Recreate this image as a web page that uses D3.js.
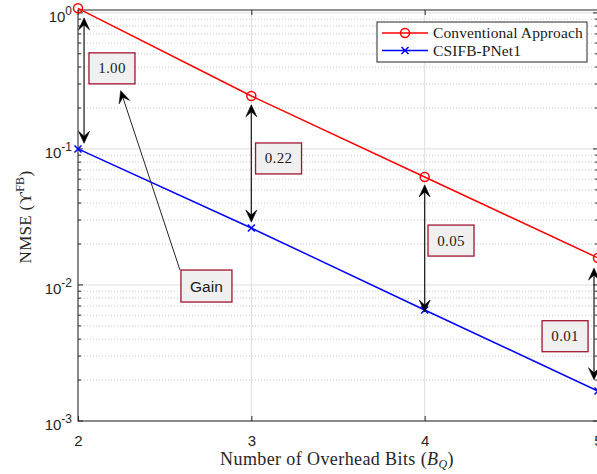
<!DOCTYPE html>
<html>
<head>
<meta charset="utf-8">
<script src="https://cdn.jsdelivr.net/npm/d3@7"></script>
<style>
  html, body { margin: 0; padding: 0; background: #fff; }
  svg { display: block; }
</style>
</head>
<body>
<svg id="chart" width="597" height="474"></svg>
<script>
// Overhead bits on the x axis
const bits = [2, 3, 4, 5];
// NMSE per scheme
const conventional = [1.08, 0.245, 0.0622, 0.0158];
const csifbPNet1 = [0.1, 0.0262, 0.00655, 0.00166];
const seriesNames = ["Conventional Approach", "CSIFB-PNet1"];
// Axis ticks
const xTicks = [2, 3, 4, 5];
const yDecades = [0, -1, -2, -3];

// Gain annotations: double arrow (x, top, bottom) and the label box centre
const gainLabels = ["1.00", "0.22", "0.05", "0.01"];
const arrowX = [2.035, 3.0, 4.0, 4.977];
const arrowTop = [0.919, 0.211, 0.0544, 0.0133];
const arrowBottom = [0.110, 0.029, 0.00633, 0.00201];
const boxX = [2.196, 3.157, 4.152, 4.810];
const boxY = [0.391, 0.0851, 0.0212, 0.0042];
// "Gain" callout box and its pointer
const gainBox = { text: "Gain", x: 2.741, y: 0.00982 };
const gainPointer = { x1: 2.588, y1: 0.0129, x2: 2.246, y2: 0.268 };

(function () {
const svg = d3.select("#chart");
const mLeft = 78, mRight = 598, mTop = 10, mBottom = 421;

const x = d3.scaleLinear().domain([2, 5]).range([mLeft, mRight]);
const y = d3.scaleLog().domain([1e-3, 1.05]).range([mBottom, mTop]);

const axisColor = "#262626";
const serif = "'Liberation Serif', 'DejaVu Serif', serif";
const sans = "'Liberation Sans', Arial, Helvetica, sans-serif";

// Grid
const grid = svg.append("g");
// minor log grid (dotted)
const minorVals = [];
for (let e = -3; e <= 0; e++) {
  for (let m = 2; m <= 9; m++) {
    const v = m * Math.pow(10, e);
    if (v <= 1.05) minorVals.push(v);
  }
}
grid.selectAll("line.minor").data(minorVals).join("line")
  .attr("x1", mLeft).attr("x2", mRight)
  .attr("y1", d => y(d)).attr("y2", d => y(d))
  .attr("stroke", "#c8c8c8").attr("stroke-width", 1)
  .attr("stroke-dasharray", "1,2");
// major grid
grid.selectAll("line.majy").data(yDecades.map(e => Math.pow(10, e))).join("line")
  .attr("x1", mLeft).attr("x2", mRight)
  .attr("y1", d => y(d)).attr("y2", d => y(d))
  .attr("stroke", "#dedede").attr("stroke-width", 1);
grid.selectAll("line.majx").data(xTicks).join("line")
  .attr("x1", d => x(d)).attr("x2", d => x(d))
  .attr("y1", mTop).attr("y2", mBottom)
  .attr("stroke", "#dedede").attr("stroke-width", 1);

// Axes frame
svg.append("rect").attr("x", mLeft).attr("y", mTop).attr("width", mRight - mLeft).attr("height", mBottom - mTop)
  .attr("fill", "none").attr("stroke", axisColor).attr("stroke-width", 1);

// x ticks (inward, top and bottom)
const gx = svg.append("g").attr("transform", `translate(0,${mBottom})`)
  .call(d3.axisBottom(x).tickValues(xTicks).tickSize(-5).tickFormat(d3.format("d")));
gx.select(".domain").remove();
gx.selectAll(".tick line").attr("stroke", axisColor);
gx.selectAll(".tick text").attr("font-family", sans).attr("font-size", 15)
  .attr("fill", axisColor).attr("y", 14);
const gxTop = svg.append("g").attr("transform", `translate(0,${mTop})`)
  .call(d3.axisTop(x).tickValues(xTicks).tickSize(-5).tickFormat(""));
gxTop.select(".domain").remove();
gxTop.selectAll(".tick line").attr("stroke", axisColor);

// y ticks: major and minor, inward on both sides
[mLeft, mRight].forEach(px => {
  const dir = px === mLeft ? 1 : -1;
  svg.append("g").selectAll("line").data(yDecades.map(e => Math.pow(10, e))).join("line")
    .attr("x1", px).attr("x2", px + dir * 5)
    .attr("y1", d => y(d)).attr("y2", d => y(d))
    .attr("stroke", axisColor);
  svg.append("g").selectAll("line").data(minorVals).join("line")
    .attr("x1", px).attr("x2", px + dir * 3)
    .attr("y1", d => y(d)).attr("y2", d => y(d))
    .attr("stroke", axisColor);
});

// y tick labels 10^e
const yl = svg.append("g").attr("font-family", sans).attr("fill", axisColor);
yDecades.forEach(e => {
  const t = yl.append("text").attr("x", 72).attr("y", y(Math.pow(10, e)) + 9)
    .attr("text-anchor", "end").attr("font-size", 15);
  t.append("tspan").text("10");
  t.append("tspan").attr("dy", -7).attr("font-size", 12).text(String(e));
});

// Axis labels
svg.append("text").attr("x", (mLeft + mRight) / 2 - 1).attr("y", 465)
  .attr("text-anchor", "middle").attr("font-family", serif).attr("font-size", 18)
  .attr("letter-spacing", 0.4).attr("fill", axisColor)
  .call(t => {
    t.append("tspan").text("Number of Overhead Bits (");
    t.append("tspan").attr("font-style", "italic").text("B");
    t.append("tspan").attr("font-style", "italic").attr("font-size", 12).attr("dy", 3).text("Q");
    t.append("tspan").attr("dy", -3).text(")");
  });
svg.append("text")
  .attr("transform", "translate(31,217) rotate(-90)")
  .attr("text-anchor", "middle").attr("font-family", serif).attr("font-size", 17)
  .attr("letter-spacing", 0.3).attr("fill", axisColor)
  .call(t => {
    t.append("tspan").text("NMSE (\u03D2");
    t.append("tspan").attr("font-size", 12).attr("dy", -7).text("FB");
    t.append("tspan").attr("dy", 7).text(")");
  });

// Series
const line = d3.line().x((d, i) => x(bits[i])).y(d => y(d));
const plot = svg.append("g");
plot.append("path").datum(conventional).attr("d", line)
  .attr("fill", "none").attr("stroke", "#ff0000").attr("stroke-width", 1.5);
plot.append("path").datum(csifbPNet1).attr("d", line)
  .attr("fill", "none").attr("stroke", "#0000ff").attr("stroke-width", 1.5);
plot.selectAll("circle.c").data(conventional).join("circle")
  .attr("cx", (d, i) => x(bits[i])).attr("cy", d => y(d)).attr("r", 4.5)
  .attr("fill", "none").attr("stroke", "#ff0000").attr("stroke-width", 1.5);
const cross = (g, cx, cy, s, color) => {
  g.append("path").attr("d", `M${cx - s},${cy - s}L${cx + s},${cy + s}M${cx - s},${cy + s}L${cx + s},${cy - s}`)
    .attr("stroke", color).attr("stroke-width", 1.5).attr("fill", "none");
};
csifbPNet1.forEach((d, i) => cross(plot, x(bits[i]), y(d), 3.5, "#0000ff"));

// Arrowhead with a notched back; tip at (tx, ty), pointing along ang
const head = (g, tx, ty, ang) => {
  const L = 12, W = 5.5, N = 7;
  const c = Math.cos(ang), s = Math.sin(ang);
  const pts = [[0, 0], [-L, -W], [-N, 0], [-L, W]].map(([px, py]) =>
    [tx + px * c - py * s, ty + px * s + py * c]);
  g.append("path").attr("d", "M" + pts.map(p => p.join(",")).join("L") + "Z")
    .attr("fill", "#000").attr("stroke", "#000").attr("stroke-width", 0.6);
};

const ann = svg.append("g");
gainLabels.forEach((lab, i) => {
  const ax = x(arrowX[i]), y1 = y(arrowTop[i]), y2 = y(arrowBottom[i]);
  ann.append("line").attr("x1", ax).attr("x2", ax).attr("y1", y1 + 6).attr("y2", y2 - 6)
    .attr("stroke", "#262626").attr("stroke-width", 1.3);
  head(ann, ax, y1, -Math.PI / 2);
  head(ann, ax, y2, Math.PI / 2);
  const bw = 46, bh = 31, cx = x(boxX[i]), cy = y(boxY[i]);
  ann.append("rect").attr("x", cx - bw / 2).attr("y", cy - bh / 2).attr("width", bw).attr("height", bh)
    .attr("fill", "#f0f0f0").attr("stroke", "#a2142f").attr("stroke-width", 1.3);
  ann.append("text").attr("x", cx).attr("y", cy + 5).attr("text-anchor", "middle")
    .attr("font-family", serif).attr("font-size", 15).attr("letter-spacing", 0.3)
    .attr("fill", "#1a1a1a").text(lab);
});

// Gain callout
{
  const x1 = x(gainPointer.x1), y1 = y(gainPointer.y1), x2 = x(gainPointer.x2), y2 = y(gainPointer.y2);
  const ang = Math.atan2(y2 - y1, x2 - x1);
  ann.append("line").attr("x1", x1).attr("y1", y1).attr("x2", x2 - 6 * Math.cos(ang)).attr("y2", y2 - 6 * Math.sin(ang))
    .attr("stroke", "#262626").attr("stroke-width", 1);
  head(ann, x2, y2, ang);
  const bw = 51, bh = 32, cx = x(gainBox.x), cy = y(gainBox.y);
  ann.append("rect").attr("x", cx - bw / 2).attr("y", cy - bh / 2).attr("width", bw).attr("height", bh)
    .attr("fill", "#f0f0f0").attr("stroke", "#a2142f").attr("stroke-width", 1.3);
  ann.append("text").attr("x", cx).attr("y", cy + 5.5).attr("text-anchor", "middle")
    .attr("font-family", sans).attr("font-size", 15.5).attr("fill", "#1a1a1a").text(gainBox.text);
}

// Legend
const lg = svg.append("g");
lg.append("rect").attr("x", 377).attr("y", 22).attr("width", 210).attr("height", 40)
  .attr("fill", "#fff").attr("stroke", "#262626").attr("stroke-width", 1);
const rows = [
  { name: seriesNames[0], color: "#ff0000", marker: "o", yy: 33 },
  { name: seriesNames[1], color: "#0000ff", marker: "x", yy: 50.5 }
];
rows.forEach(r => {
  lg.append("line").attr("x1", 382).attr("x2", 428).attr("y1", r.yy).attr("y2", r.yy)
    .attr("stroke", r.color).attr("stroke-width", 1.5);
  if (r.marker === "o") {
    lg.append("circle").attr("cx", 405).attr("cy", r.yy).attr("r", 4.5)
      .attr("fill", "none").attr("stroke", r.color).attr("stroke-width", 1.5);
  } else {
    cross(lg, 405, r.yy, 3.5, r.color);
  }
  lg.append("text").attr("x", 433).attr("y", r.yy + 5).attr("font-family", serif)
    .attr("font-size", 15.5).attr("letter-spacing", 0.1).attr("fill", "#1a1a1a").text(r.name);
});
})();
</script>
</body>
</html>
